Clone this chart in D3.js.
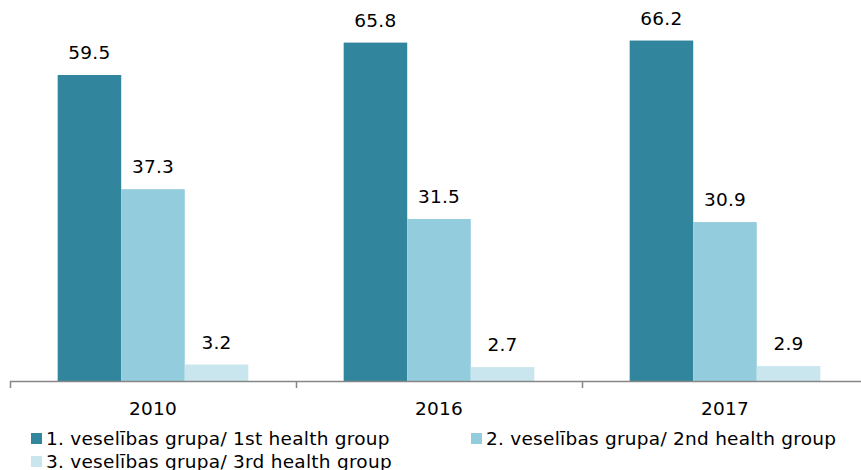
<!DOCTYPE html>
<html>
<head>
<meta charset="utf-8">
<script src="https://cdn.jsdelivr.net/npm/d3@7"></script>
<style>
  body { margin: 0; background: #fff; }
  svg text { font-family: "DejaVu Sans", Verdana, sans-serif; fill: #000; font-size: 18.5px; letter-spacing: 0.25px; }
</style>
</head>
<body>
<svg id="chart" width="861" height="470"></svg>
<script>
// data
var years = ['2010', '2016', '2017'];
var seriesNames = [
  '1. veselības grupa/ 1st health group',
  '2. veselības grupa/ 2nd health group',
  '3. veselības grupa/ 3rd health group'
];
var group1 = [59.5, 65.8, 66.2];
var group2 = [37.3, 31.5, 30.9];
var group3 = [3.2, 2.7, 2.9];

var colors = ['#31859c', '#93cddd', '#c9e6ef'];
var allSeries = [group1, group2, group3];

var svg = d3.select('#chart');

var x = d3.scaleBand().domain(years).range([10, 868]).padding(0);
var xInner = d3.scaleBand()
  .domain(d3.range(seriesNames.length))
  .range([x.bandwidth() / 6, x.bandwidth() * 5 / 6]);
var y = d3.scaleLinear().domain([0, 70]).range([381, 21]);

// bars
var groups = svg.selectAll('g.year')
  .data(years)
  .enter()
  .append('g')
  .attr('class', 'year')
  .attr('transform', d => 'translate(' + x(d) + ',0)');

groups.selectAll('rect')
  .data((yr, i) => allSeries.map((s, j) => ({ s: j, v: s[i] })))
  .enter()
  .append('rect')
  .attr('x', d => xInner(d.s))
  .attr('width', xInner.bandwidth())
  .attr('y', d => y(d.v))
  .attr('height', d => y(0) - y(d.v))
  .attr('fill', d => colors[d.s]);

groups.selectAll('text.val')
  .data((yr, i) => allSeries.map((s, j) => ({ s: j, v: s[i] })))
  .enter()
  .append('text')
  .attr('class', 'val')
  .attr('x', d => xInner(d.s) + xInner.bandwidth() / 2)
  .attr('y', d => y(d.v) - 16)
  .attr('text-anchor', 'middle')
  .text(d => d.v.toFixed(1));

// x axis: line with ticks at category borders
var axis = svg.append('g');
axis.append('line')
  .attr('x1', 10).attr('x2', 868)
  .attr('y1', 381.5).attr('y2', 381.5)
  .attr('stroke', '#868686').attr('stroke-width', 1.5);

axis.selectAll('line.tick')
  .data(years.concat(['end']))
  .enter()
  .append('line')
  .attr('class', 'tick')
  .attr('x1', (d, i) => 10.5 + i * x.bandwidth())
  .attr('x2', (d, i) => 10.5 + i * x.bandwidth())
  .attr('y1', 381).attr('y2', 388)
  .attr('stroke', '#868686').attr('stroke-width', 1.5);

axis.selectAll('text')
  .data(years)
  .enter()
  .append('text')
  .attr('x', d => x(d) + x.bandwidth() / 2)
  .attr('y', 415)
  .attr('text-anchor', 'middle')
  .text(d => d);

// legend
var legendPos = [[31, 438], [471, 438], [31, 461]];
var legend = svg.selectAll('g.legend')
  .data(seriesNames)
  .enter()
  .append('g')
  .attr('class', 'legend')
  .attr('transform', (d, i) => 'translate(' + legendPos[i][0] + ',' + legendPos[i][1] + ')');

legend.append('rect')
  .attr('x', 0).attr('y', -5)
  .attr('width', 11).attr('height', 11)
  .attr('fill', (d, i) => colors[i]);

legend.append('text')
  .attr('x', 15)
  .attr('y', 7)
  .text(d => d);
</script>
</body>
</html>
